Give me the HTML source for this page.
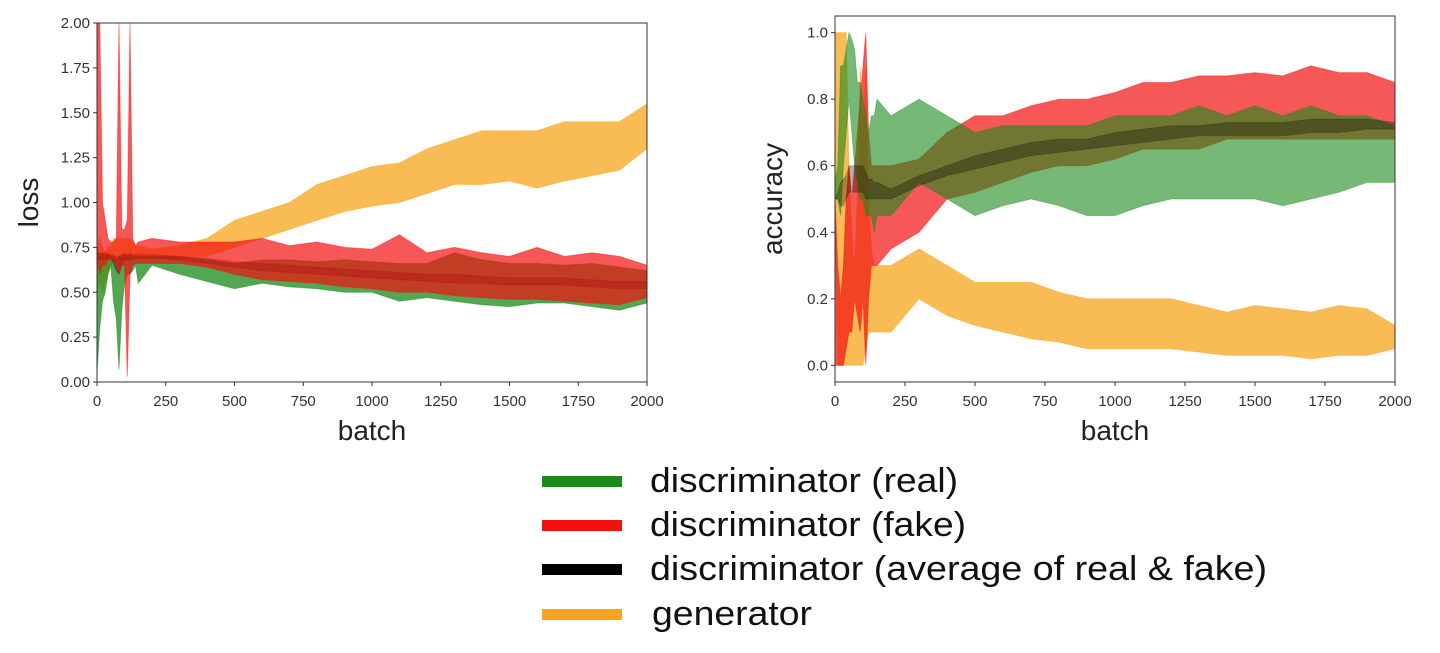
<!DOCTYPE html>
<html><head><meta charset="utf-8"><style>
html,body{margin:0;padding:0;background:#fff;}
svg{display:block;font-family:"Liberation Sans",sans-serif;}
</style></head><body>
<svg id="root" width="1440" height="653" viewBox="0 0 1440 653" xmlns="http://www.w3.org/2000/svg">
<g id="lossPlot"></g>
<g id="accPlot"></g>
<g id="legend">
  <g><rect x="542" y="476" width="80" height="11" fill="#1a8a1a"/><text x="650" y="492" font-size="34" fill="#111" textLength="308" lengthAdjust="spacingAndGlyphs">discriminator (real)</text></g>
  <g><rect x="542" y="520" width="80" height="11" fill="#f21010"/><text x="650" y="536" font-size="34" fill="#111" textLength="316" lengthAdjust="spacingAndGlyphs">discriminator (fake)</text></g>
  <g><rect x="542" y="564" width="80" height="11" fill="#000"/><text x="650" y="580" font-size="34" fill="#111" textLength="617" lengthAdjust="spacingAndGlyphs">discriminator (average of real &amp; fake)</text></g>
  <g><rect x="542" y="609" width="80" height="11" fill="#f7a51c"/><text x="652" y="625" font-size="34" fill="#111" textLength="160" lengthAdjust="spacingAndGlyphs">generator</text></g>
</g>
</svg>
<script>
const batches=[0,10,20,30,40,50,60,70,80,90,100,110,120,130,140,150,200,300,400,500,600,700,800,900,1000,1100,1200,1300,1400,1500,1600,1700,1800,1900,2000];
const xTicks=[0,250,500,750,1000,1250,1500,1750,2000];
const lossTicks=[0,0.25,0.5,0.75,1.0,1.25,1.5,1.75,2.0];
const lossTickLabels=["0.00","0.25","0.50","0.75","1.00","1.25","1.50","1.75","2.00"];
const accTicks=[0,0.2,0.4,0.6,0.8,1.0];
const accTickLabels=["0.0","0.2","0.4","0.6","0.8","1.0"];

const lossGenLo=[.5,.55,.5,.55,.6,.65,.68,.68,.68,.68,.68,.68,.68,.68,.68,.68,.68,.7,.7,.75,.8,.85,.9,.95,.98,1.0,1.05,1.1,1.1,1.12,1.08,1.12,1.15,1.18,1.3];
const lossGenHi=[.75,.8,.75,.72,.75,.75,.8,.8,.8,.8,.8,.8,.8,.78,.76,.76,.74,.76,.8,.9,.95,1.0,1.1,1.15,1.2,1.22,1.3,1.35,1.4,1.4,1.4,1.45,1.45,1.45,1.55];
const lossRealLo=[.05,.3,.45,.5,.6,.65,.45,.35,.07,.4,.55,.6,.6,.62,.65,.55,.65,.6,.56,.52,.55,.53,.52,.5,.5,.45,.47,.45,.43,.42,.44,.44,.42,.4,.44];
const lossRealHi=[.75,.7,.72,.7,.72,.7,.7,.68,.7,.7,.72,.7,.72,.7,.7,.7,.7,.7,.68,.66,.68,.68,.67,.68,.67,.66,.66,.72,.68,.66,.66,.65,.66,.64,.62];
const lossFakeLo=[.7,.6,.65,.65,.68,.68,.68,.65,.6,.65,.65,.03,.6,.65,.66,.66,.66,.66,.64,.6,.57,.56,.55,.53,.52,.5,.5,.48,.47,.46,.46,.45,.44,.43,.47];
const lossFakeHi=[2.0,2.0,1.0,.9,.8,.78,.78,.8,2.0,.85,.85,.9,2.0,.8,.76,.78,.8,.78,.78,.78,.8,.76,.78,.75,.74,.82,.72,.75,.72,.7,.75,.7,.72,.7,.65];
const lossAvgLo=[.68,.68,.68,.68,.69,.69,.66,.62,.6,.65,.68,.68,.68,.69,.69,.69,.69,.68,.66,.64,.62,.61,.6,.59,.58,.57,.56,.55,.55,.54,.54,.54,.53,.52,.52];
const lossAvgHi=[.72,.72,.72,.72,.71,.71,.71,.7,.7,.71,.71,.71,.71,.71,.71,.71,.71,.7,.69,.67,.66,.65,.64,.63,.62,.61,.6,.6,.59,.58,.58,.58,.57,.56,.56];

const accGenLo=[.5,0,0,0,0,0,0,0,0,0,0,.05,.1,.1,.1,.1,.1,.2,.15,.12,.1,.08,.07,.05,.05,.05,.05,.04,.03,.03,.03,.02,.03,.03,.05];
const accGenHi=[1,1,1,1,1,.6,.4,.3,.5,.9,.7,.9,.5,.35,.3,.3,.3,.35,.3,.25,.25,.25,.22,.2,.2,.2,.2,.18,.16,.18,.17,.16,.18,.17,.12];
const accRealLo=[.5,.5,.45,.6,.7,.8,.7,.6,.55,.5,.5,.45,.45,.45,.4,.45,.45,.55,.5,.45,.48,.5,.48,.45,.45,.48,.5,.5,.5,.5,.48,.5,.52,.55,.55];
const accRealHi=[.55,.6,.9,.9,.95,1.0,.98,.95,.85,.85,.8,.75,.7,.75,.75,.8,.75,.8,.75,.7,.72,.72,.72,.72,.75,.75,.75,.78,.75,.78,.75,.78,.75,.75,.72];
const accFakeLo=[0,0,0,0,.05,.1,.1,.2,.15,.1,.2,0,.2,.3,.3,.3,.35,.4,.5,.52,.55,.58,.6,.6,.62,.65,.65,.65,.68,.68,.68,.68,.68,.68,.68];
const accFakeHi=[.5,.3,.2,.3,.5,.6,.5,.6,.7,.8,.9,1.0,.7,.6,.6,.6,.6,.62,.7,.75,.75,.78,.8,.8,.82,.85,.85,.87,.87,.88,.87,.9,.88,.88,.85];
const accAvgLo=[.5,.5,.48,.48,.5,.52,.52,.52,.52,.52,.52,.5,.5,.5,.5,.5,.5,.54,.57,.59,.61,.63,.64,.65,.66,.67,.68,.69,.69,.69,.69,.7,.7,.71,.71];
const accAvgHi=[.5,.52,.55,.56,.57,.6,.6,.6,.6,.6,.6,.58,.56,.56,.55,.55,.53,.57,.6,.63,.65,.67,.68,.68,.7,.71,.72,.72,.73,.73,.73,.74,.74,.74,.73];

const NS="http://www.w3.org/2000/svg";
function mk(tag,parent){const e=document.createElementNS(NS,tag);parent.appendChild(e);return e;}

function drawChart(g,cfg){
  const L=cfg.left,R=cfg.right,T=cfg.top,B=cfg.bottom;
  const xs=v=>L+(v-0)/(2000-0)*(R-L);
  const ys=v=>B-(v-cfg.ymin)/(cfg.ymax-cfg.ymin)*(B-T);
  const clip=mk('clipPath',g);clip.setAttribute('id',cfg.id+'clip');
  const cr=mk('rect',clip);cr.setAttribute('x',L);cr.setAttribute('y',T);cr.setAttribute('width',R-L);cr.setAttribute('height',B-T);
  const plot=mk('g',g);plot.setAttribute('clip-path','url(#'+cfg.id+'clip)');
  
  
  cfg.series.forEach(s=>{
    let d='M';
    batches.forEach((b,i)=>{d+=xs(b).toFixed(1)+','+ys(s.hi[i]).toFixed(1)+' L';});
    for(let i=batches.length-1;i>=0;i--){d+=xs(batches[i]).toFixed(1)+','+ys(s.lo[i]).toFixed(1)+(i>0?' L':' Z');}
    const p=mk('path',plot);p.setAttribute('d',d);p.setAttribute('fill',s.color);p.setAttribute('fill-opacity',s.op);
    p.setAttribute('stroke',s.color);p.setAttribute('stroke-width','1');p.setAttribute('stroke-opacity',s.op*0.6);
    
    
  });
  const frame=mk('rect',g);frame.setAttribute('x',L);frame.setAttribute('y',T);frame.setAttribute('width',R-L);frame.setAttribute('height',B-T);
  frame.setAttribute('fill','none');frame.setAttribute('stroke','#333');frame.setAttribute('stroke-width','1');
  
  
  xTicks.forEach(t=>{
    const ln=mk('line',g);ln.setAttribute('x1',xs(t));ln.setAttribute('x2',xs(t));ln.setAttribute('y1',B);ln.setAttribute('y2',B+4);ln.setAttribute('stroke','#333');
    const tx=mk('text',g);tx.setAttribute('x',xs(t));tx.setAttribute('y',B+24);tx.setAttribute('font-size','15');tx.setAttribute('fill','#333');tx.setAttribute('text-anchor','middle');tx.textContent=t;
    
    
  });
  cfg.yTicks.forEach((t,i)=>{
    const ln=mk('line',g);ln.setAttribute('x1',L-4);ln.setAttribute('x2',L);ln.setAttribute('y1',ys(t));ln.setAttribute('y2',ys(t));ln.setAttribute('stroke','#333');
    const tx=mk('text',g);tx.setAttribute('x',L-7);tx.setAttribute('y',ys(t)+5);tx.setAttribute('font-size','15');tx.setAttribute('fill','#333');tx.setAttribute('text-anchor','end');tx.textContent=cfg.yLabels[i];
    
    
  });
  const xl=mk('text',g);xl.setAttribute('x',(L+R)/2);xl.setAttribute('y',B+58);xl.setAttribute('font-size','28');xl.setAttribute('fill','#222');xl.setAttribute('text-anchor','middle');xl.textContent='batch';
  
  
  const yl=mk('text',g);yl.setAttribute('transform','translate('+cfg.ylx+','+(T+B)/2+') rotate(-90)');yl.setAttribute('font-size','28');yl.setAttribute('fill','#222');yl.setAttribute('text-anchor','middle');yl.textContent=cfg.ytitle;
  
  
}

drawChart(document.getElementById('lossPlot'),{id:'loss',left:97,right:647,top:23,bottom:382,ymin:0,ymax:2,yTicks:lossTicks,yLabels:lossTickLabels,ytitle:'loss',ylx:38,
  series:[
    {name:'generator-loss',color:'#f7a51c',op:0.75,lo:lossGenLo,hi:lossGenHi},
    {name:'real-loss',color:'#1a8a1a',op:0.75,lo:lossRealLo,hi:lossRealHi},
    {name:'average-loss',color:'#000',op:0.35,lo:lossAvgLo,hi:lossAvgHi},
    {name:'fake-loss',color:'#f21010',op:0.7,lo:lossFakeLo,hi:lossFakeHi}
  ]});
drawChart(document.getElementById('accPlot'),{id:'acc',left:835,right:1395,top:16,bottom:382,ymin:-0.05,ymax:1.05,yTicks:accTicks,yLabels:accTickLabels,ytitle:'accuracy',ylx:782,
  series:[
    {name:'generator-accuracy',color:'#f7a51c',op:0.75,lo:accGenLo,hi:accGenHi},
    {name:'fake-accuracy',color:'#f21010',op:0.7,lo:accFakeLo,hi:accFakeHi},
    {name:'real-accuracy',color:'#1a8a1a',op:0.6,lo:accRealLo,hi:accRealHi},
    {name:'average-accuracy',color:'#000',op:0.3,lo:accAvgLo,hi:accAvgHi}
  ]});
</script>
</body></html>
